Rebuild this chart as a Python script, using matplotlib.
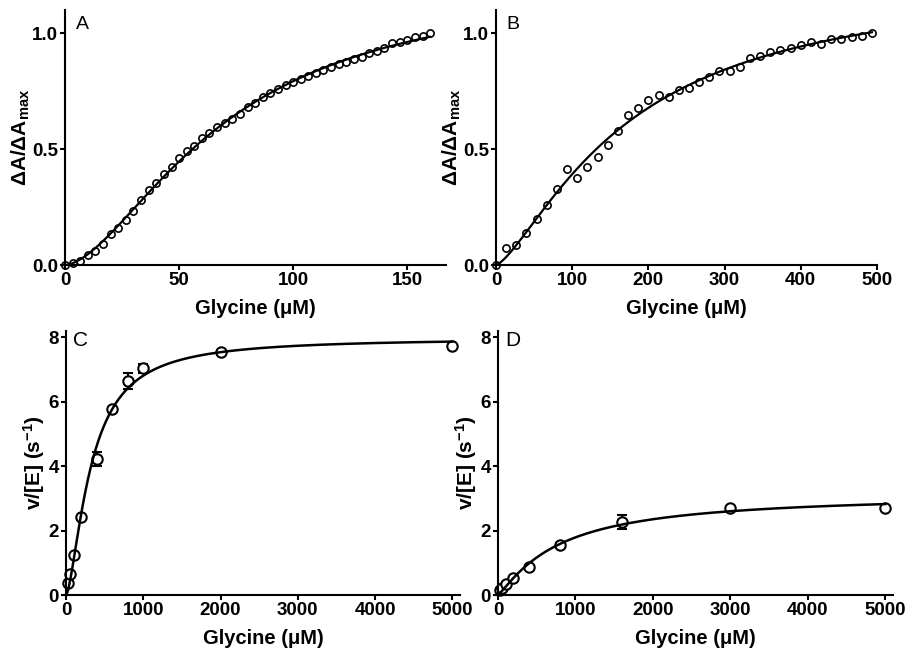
import numpy as np
import matplotlib
matplotlib.use('Agg')
import matplotlib.pyplot as plt

# panel A - titration, glycine (uM) vs dA/dAmax
glyA = [0.0, 3.3, 6.7, 10.0, 13.3, 16.7, 20.0, 23.3, 26.7, 30.0, 33.3, 36.7, 40.0,
        43.3, 46.7, 50.0, 53.3, 56.7, 60.0, 63.3, 66.7, 70.0, 73.3, 76.7, 80.0,
        83.3, 86.7, 90.0, 93.3, 96.7, 100.0, 103.3, 106.7, 110.0, 113.3, 116.7,
        120.0, 123.3, 126.7, 130.0, 133.3, 136.7, 140.0, 143.3, 146.7, 150.0,
        153.3, 156.7, 160.0]
dA_A = [0.0, 0.01, 0.019, 0.043, 0.06, 0.089, 0.132, 0.158, 0.194, 0.234, 0.28,
        0.324, 0.352, 0.393, 0.424, 0.46, 0.492, 0.514, 0.547, 0.568, 0.594, 0.612,
        0.63, 0.652, 0.68, 0.70, 0.724, 0.741, 0.758, 0.776, 0.79, 0.804, 0.817,
        0.827, 0.842, 0.855, 0.866, 0.877, 0.888, 0.896, 0.914, 0.924, 0.934,
        0.957, 0.962, 0.971, 0.983, 0.988, 1.0]

# panel B
glyB = [0, 13.3, 26.7, 40, 53.3, 66.7, 80, 93.3, 106.7, 120, 133.3, 146.7, 160,
        173.3, 186.7, 200, 213.3, 226.7, 240, 253.3, 266.7, 280, 293.3, 306.7,
        320, 333.3, 346.7, 360, 373.3, 386.7, 400, 413.3, 426.7, 440, 453.3,
        466.7, 480, 493.3]
dA_B = [0, 0.072, 0.086, 0.14, 0.20, 0.259, 0.327, 0.414, 0.377, 0.424, 0.465,
        0.518, 0.58, 0.647, 0.679, 0.712, 0.734, 0.724, 0.753, 0.763, 0.791, 0.81,
        0.835, 0.837, 0.856, 0.892, 0.902, 0.917, 0.928, 0.935, 0.95, 0.96, 0.954,
        0.974, 0.974, 0.983, 0.986, 1.0]

# panel C - kinetics
glyC = [25, 50, 100, 200, 400, 600, 800, 1000, 2000, 5000]
rateC = [0.36, 0.64, 1.25, 2.41, 4.23, 5.79, 6.65, 7.04, 7.55, 7.74]
errC = [0, 0, 0, 0, 0.22, 0, 0.25, 0.15, 0, 0]

# panel D
glyD = [25, 50, 100, 200, 400, 800, 1600, 3000, 5000]
rateD = [0.17, 0.23, 0.33, 0.54, 0.88, 1.55, 2.26, 2.71, 2.71]
errD = [0, 0, 0, 0, 0, 0, 0.22, 0, 0]

plt.rcParams['font.family'] = ['Liberation Sans', 'DejaVu Sans']
plt.rcParams['mathtext.fontset'] = 'custom'
plt.rcParams['mathtext.rm'] = 'Liberation Sans'
plt.rcParams['mathtext.bf'] = 'Liberation Sans:bold'
plt.rcParams['mathtext.default'] = 'bf'


def hill_fit(x, y):   # least squares Hill fit by grid search
    x = np.asarray(x, float)
    y = np.asarray(y, float)
    best = None
    for k in np.linspace(x.max() * 0.02, x.max() * 1.5, 300):
        for n in np.linspace(0.8, 3.0, 111):
            f = x ** n / (k ** n + x ** n)
            v = (f @ y) / (f @ f)
            e = ((v * f - y) ** 2).sum()
            if best is None or e < best[0]:
                best = (e, v, k, n)
    return best[1:]


def style_axes(ax, xlim, ylim, xticks, yticks, yfmt):
    for s in ['top', 'right']:
        ax.spines[s].set_visible(False)
    for s in ['left', 'bottom']:
        ax.spines[s].set_linewidth(1.5)
    ax.set_xlim(xlim)
    ax.set_ylim(ylim)
    ax.set_xticks(xticks)
    ax.set_yticks(yticks)
    ax.set_yticklabels([yfmt % t for t in yticks])
    ax.tick_params(length=3.5, width=1.5, pad=1.5, labelsize=13.5)
    for lab in ax.get_xticklabels() + ax.get_yticklabels():
        lab.set_fontweight('bold')
    ax.set_xlabel('Glycine (\u03bcM)', fontsize=14.5, fontweight='bold', labelpad=7)


fig = plt.figure(figsize=(9.1, 6.52), dpi=100)
W, H = 910.0, 652.0
axA = fig.add_axes([65 / W, (652 - 265) / H, 381 / W, 255 / H])
axB = fig.add_axes([496 / W, (652 - 265) / H, 381 / W, 255 / H])
axC = fig.add_axes([66 / W, (652 - 595) / H, 394 / W, 264 / H])
axD = fig.add_axes([498 / W, (652 - 595) / H, 395 / W, 264 / H])

for ax, x, y, xl, xt, letter in [(axA, glyA, dA_A, (0, 167), [0, 50, 100, 150], 'A'),
                                 (axB, glyB, dA_B, (0, 500), [0, 100, 200, 300, 400, 500], 'B')]:
    v, k, n = hill_fit(x[1:], y[1:])
    xs = np.linspace(0, max(x), 400)
    ax.plot(xs, v * xs ** n / (k ** n + xs ** n), color='black', lw=1.6, zorder=3)
    ax.plot(x, y, 'o', mfc='none', mec='black', mew=1.2, ms=5.2, zorder=4, clip_on=False)
    style_axes(ax, xl, (0, 1.1), xt, [0.0, 0.5, 1.0], '%.1f')
    ax.set_ylabel('\u0394A/\u0394A$_{max}$', fontsize=15, fontweight='bold', labelpad=0)
    ax.text(0.028, 0.975, letter, transform=ax.transAxes, fontsize=14, va='top', ha='left')

for ax, x, y, err, letter in [(axC, glyC, rateC, errC, 'C'), (axD, glyD, rateD, errD, 'D')]:
    v, k, n = hill_fit(x, y)
    xs = np.linspace(0, max(x), 600)
    ax.plot(xs, v * xs ** n / (k ** n + xs ** n), color='black', lw=1.8, zorder=3)
    ax.errorbar(x, y, yerr=err, fmt='none', ecolor='black', elinewidth=1.5,
                capsize=3.5, capthick=1.5, zorder=1)
    ax.plot(x, y, 'o', mfc='white', mec='black', mew=1.5, ms=7.5, zorder=2, clip_on=False)
    style_axes(ax, (0, 5100), (0, 8.2), [0, 1000, 2000, 3000, 4000, 5000], [0, 2, 4, 6, 8], '%d')
    ax.set_ylabel('v/[E] (s$^{-1}$)', fontsize=15, fontweight='bold', labelpad=1)
    ax.text(0.018, 1.0, letter, transform=ax.transAxes, fontsize=15, va='top', ha='left')

fig.savefig('out.png', dpi=100)
